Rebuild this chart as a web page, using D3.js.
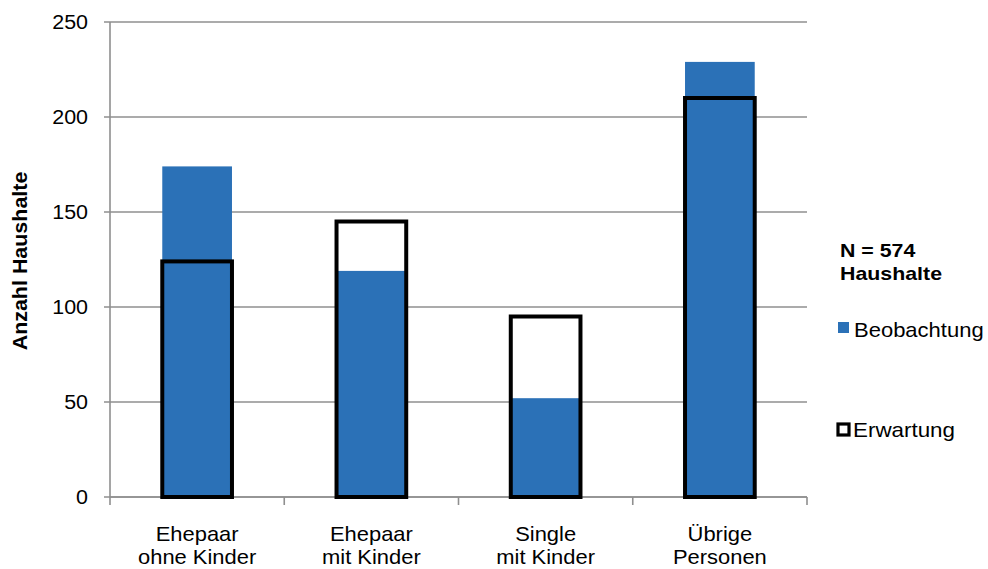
<!DOCTYPE html>
<html>
<head>
<meta charset="utf-8">
<script src="https://cdn.jsdelivr.net/npm/d3@7"></script>
<style>
  html, body { margin: 0; padding: 0; background: #fff; }
  svg { display: block; font-family: "Liberation Sans", Arial, sans-serif; }
</style>
</head>
<body>
<svg id="chart" width="988" height="569"></svg>
<script>
// Household types (two-line labels)
const categories = [
  ["Ehepaar", "ohne Kinder"],
  ["Ehepaar", "mit Kinder"],
  ["Single", "mit Kinder"],
  ["Übrige", "Personen"]
];
// Observed and expected household counts
const observed = [174, 119, 52, 229];
const expected = [124, 145, 95, 210];
const yTicks = [0, 50, 100, 150, 200, 250];
const seriesNames = ["Beobachtung", "Erwartung"];
const noteLines = ["N = 574", "Haushalte"];
const yTitle = "Anzahl Haushalte";

const svg = d3.select("#chart");
const blue = "#2b71b7";
const grid = "#8f8f8f";

const plotLeft = 110, plotRight = 807, plotTop = 22, plotBottom = 497;

const x = d3.scaleBand()
  .domain(categories.map((d, i) => i))
  .range([plotLeft, plotRight])
  .paddingInner(0.6)
  .paddingOuter(0.3);
const step = (plotRight - plotLeft) / categories.length;

const y = d3.scaleLinear().domain([0, 250]).range([plotBottom, plotTop]);

// stretched text helper
function label(g, txt, px, py, size, sx, opts = {}) {
  return g.append("text")
    .attr("transform", `translate(${px},${py})${opts.rotate ? ` rotate(${opts.rotate})` : ""} scale(${sx},1)`)
    .attr("font-size", size)
    .attr("fill", "#000")
    .attr("text-anchor", opts.anchor || "start")
    .attr("font-weight", opts.bold ? "bold" : "normal")
    .text(txt);
}

// horizontal gridlines (extend left as tick marks)
svg.append("g").selectAll("line").data(yTicks).join("line")
  .attr("x1", plotLeft - 6).attr("x2", plotRight)
  .attr("y1", d => y(d)).attr("y2", d => y(d))
  .attr("stroke", grid).attr("stroke-width", 1.6);

// y axis line
svg.append("line")
  .attr("x1", plotLeft).attr("x2", plotLeft)
  .attr("y1", y(250)).attr("y2", y(0))
  .attr("stroke", grid).attr("stroke-width", 1.6);

// y tick labels
const yl = svg.append("g");
yTicks.forEach(v => label(yl, String(v), 88, y(v) + 7, 19.5, 1.1, { anchor: "end" }));

// y axis title
label(svg, yTitle, 27, 261, 19.5, 1.1, { anchor: "middle", rotate: -90, bold: true });

// observed bars
svg.append("g").selectAll("rect").data(observed).join("rect")
  .attr("x", (d, i) => x(i))
  .attr("width", x.bandwidth())
  .attr("y", d => y(d))
  .attr("height", d => y(0) - y(d))
  .attr("fill", blue);

// x axis line with category ticks
svg.append("line")
  .attr("x1", plotLeft).attr("x2", plotRight)
  .attr("y1", plotBottom).attr("y2", plotBottom)
  .attr("stroke", grid).attr("stroke-width", 1.6);
svg.append("g").selectAll("line").data(d3.range(categories.length + 1)).join("line")
  .attr("x1", i => plotLeft + i * step).attr("x2", i => plotLeft + i * step)
  .attr("y1", plotBottom).attr("y2", plotBottom + 8)
  .attr("stroke", grid).attr("stroke-width", 1.6);

// expected bars as outlines
svg.append("g").selectAll("rect").data(expected).join("rect")
  .attr("x", (d, i) => x(i))
  .attr("width", x.bandwidth())
  .attr("y", d => y(d))
  .attr("height", d => y(0) - y(d))
  .attr("fill", "none")
  .attr("stroke", "#000")
  .attr("stroke-width", 4);

// category labels
const xl = svg.append("g");
categories.forEach((lines, i) => {
  const cx = plotLeft + (i + 0.5) * step;
  label(xl, lines[0], cx, 541, 20.5, 1.07, { anchor: "middle" });
  label(xl, lines[1], cx, 564, 20.5, 1.07, { anchor: "middle" });
});

// sample size note
const note = svg.append("g");
label(note, noteLines[0], 840, 257, 17.5, 1.22, { bold: true });
label(note, noteLines[1], 840, 280, 17.5, 1.22, { bold: true });

// legend
const lg = svg.append("g");
lg.append("rect").attr("x", 838).attr("y", 322).attr("width", 11).attr("height", 11).attr("fill", blue);
label(lg, seriesNames[0], 854, 337, 20, 1.1);
lg.append("rect").attr("x", 838).attr("y", 424).attr("width", 11).attr("height", 11)
  .attr("fill", "#fff").attr("stroke", "#000").attr("stroke-width", 3.2);
label(lg, seriesNames[1], 853, 437, 20, 1.12);
</script>
</body>
</html>
